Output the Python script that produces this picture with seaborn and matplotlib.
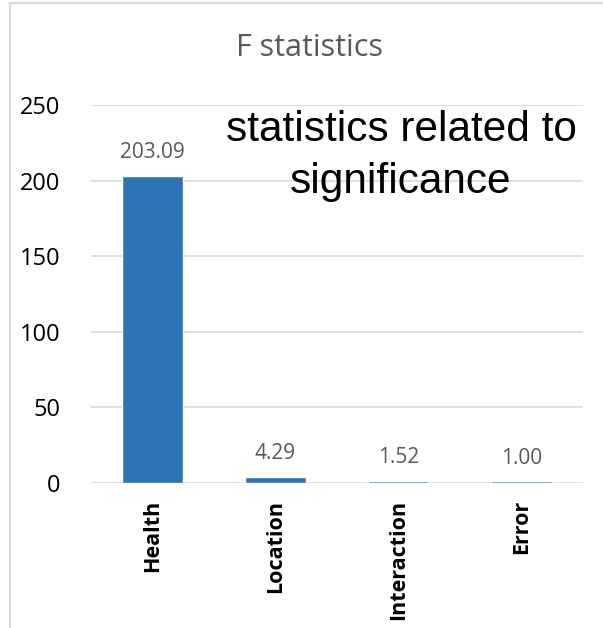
import matplotlib
matplotlib.use("Agg")
import matplotlib.pyplot as plt
from matplotlib.lines import Line2D
import seaborn as sns
import pandas as pd

categories = ["Health", "Location", "Interaction", "Error"]
f_values = [203.09, 4.29, 1.52, 1.00]
y_ticks = [0, 50, 100, 150, 200, 250]

sns.set_theme(style="white")
plt.rcParams["font.family"] = ["Open Sans", "DejaVu Sans"]

df = pd.DataFrame({"source": categories, "F": f_values})

fig = plt.figure(figsize=(6.03, 6.28), dpi=100)
ax = fig.add_axes([91 / 603, 1 - 483 / 628, 492 / 603, 378 / 628])

sns.barplot(data=df, x="source", y="F", color="#2E75B6", saturation=1,
            width=0.5, ax=ax, zorder=3)

ax.set_ylim(0, 250)
ax.set_xlim(-0.5, 3.5)
ax.set_yticks(y_ticks)
ax.set_yticklabels([str(t) for t in y_ticks], fontsize=17, color="black")
ax.yaxis.grid(True, color="#d9d9d9", linewidth=1.2, zorder=0)
ax.set_axisbelow(True)
ax.tick_params(axis="both", length=0)
ax.tick_params(axis="y", pad=22)
ax.tick_params(axis="x", pad=12)
for lab in ax.get_xticklabels():
    lab.set_rotation(90)
    lab.set_fontweight("bold")
    lab.set_fontsize(15.5)
    lab.set_color("black")
    lab.set_va("top")
for s in ax.spines.values():
    s.set_visible(False)
ax.set_xlabel("")
ax.set_ylabel("")

ax.bar_label(ax.containers[0], labels=[f"{v:.2f}" for v in f_values],
             padding=9, fontsize=15, color="#595959")

fig.text(310 / 603, 1 - 48 / 628, "F statistics", ha="center", va="center",
         fontsize=22, color="#595959")

fig.text(401 / 603, 1 - 156 / 628, "statistics related to\nsignificance",
         ha="center", va="center", fontsize=30.5, color="black",
         family="Liberation Sans", linespacing=1.38)

# light frame around the chart area
fig.add_artist(Line2D([10 / 603, 10 / 603], [0, 1 - 3 / 628],
                      color="#d9d9d9", linewidth=1.6, transform=fig.transFigure))
fig.add_artist(Line2D([10 / 603, 1], [1 - 3 / 628, 1 - 3 / 628],
                      color="#d9d9d9", linewidth=1.6, transform=fig.transFigure))

fig.savefig("out.png", dpi=100)
